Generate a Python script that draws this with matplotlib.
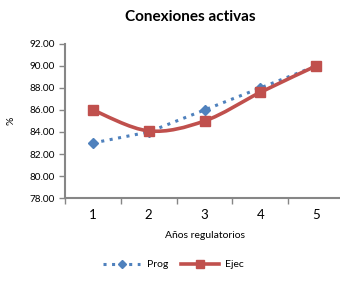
import numpy as np
import matplotlib.pyplot as plt
from matplotlib.path import Path
from matplotlib.patches import PathPatch
from matplotlib.lines import Line2D

# datos
anios = [1, 2, 3, 4, 5]
prog = [83.0, 84.0, 86.0, 88.0, 90.0]
ejec = [86.0, 84.1, 85.0, 87.6, 90.0]
yticks = [78, 80, 82, 84, 86, 88, 90, 92]

azul = '#4F81BD'
rojo = '#C0504D'
gris = '#868686'

plt.rcParams['font.family'] = ['Lato', 'DejaVu Sans']

fig = plt.figure(figsize=(3.4, 2.83), dpi=100)
ax = fig.add_axes([0.191, 0.300, 0.821, 0.545])


def suave(x, y):
    "curva suavizada tipo excel (bezier catmull-rom)"
    p = np.column_stack([x, y]).astype(float)
    pts = [p[0]]
    codes = [Path.MOVETO]
    n = len(p)
    for i in range(n - 1):
        p0 = p[i - 1] if i > 0 else p[i]
        p3 = p[i + 2] if i + 2 < n else p[i + 1]
        c1 = p[i] + (p[i + 1] - p0) / 6.0
        c2 = p[i + 1] - (p3 - p[i]) / 6.0
        pts += [c1, c2, p[i + 1]]
        codes += [Path.CURVE4] * 3
    return Path(pts, codes)


ax.plot(anios, prog, color=azul, linestyle=(0, (1, 1.8)), linewidth=2.2,
        marker='D', markersize=5, zorder=3)
ax.add_patch(PathPatch(suave(anios, ejec), facecolor='none', edgecolor=rojo,
                       linewidth=2.6, zorder=4))
ax.plot(anios, ejec, linestyle='none', color=rojo, marker='s', markersize=7, zorder=5)

ax.set_xlim(0.5, 5.5)
ax.set_ylim(78, 92)
ax.set_yticks(yticks)
ax.set_yticklabels(['%.2f' % v for v in yticks], fontsize=7.2)
ax.set_xticks(anios)
ax.set_xticklabels([str(a) for a in anios], fontsize=9.5)
ax.set_xticks(np.arange(0.5, 6, 1.0), minor=True)
ax.tick_params(axis='x', which='major', length=0, pad=8)
ax.tick_params(axis='x', which='minor', length=4, color=gris, width=1)
ax.tick_params(axis='y', length=4, color=gris, width=1, pad=3)

for s in ['top', 'right']:
    ax.spines[s].set_visible(False)
for s in ['left', 'bottom']:
    ax.spines[s].set_color(gris)
    ax.spines[s].set_linewidth(1.5)

ax.set_xlabel('Años regulatorios', fontsize=7.5, labelpad=7)
ax.set_ylabel('%', fontsize=7.5, labelpad=10)
fig.text(0.56, 0.94, 'Conexiones activas', fontsize=11, fontweight='bold',
         ha='center', va='center')

h1 = Line2D([], [], color=azul, linestyle=(0, (1, 1.8)), linewidth=2.2,
            marker='D', markersize=4)
h2 = Line2D([], [], color=rojo, linewidth=2.6, marker='s', markersize=5.5)
fig.legend([h1, h2], ['Prog', 'Ejec'], loc='center', bbox_to_anchor=(0.51, 0.065),
           ncol=2, frameon=False, fontsize=7.5, handlelength=3.6,
           numpoints=1, columnspacing=1.3, handletextpad=0.6)

fig.savefig('out.png', dpi=100)
